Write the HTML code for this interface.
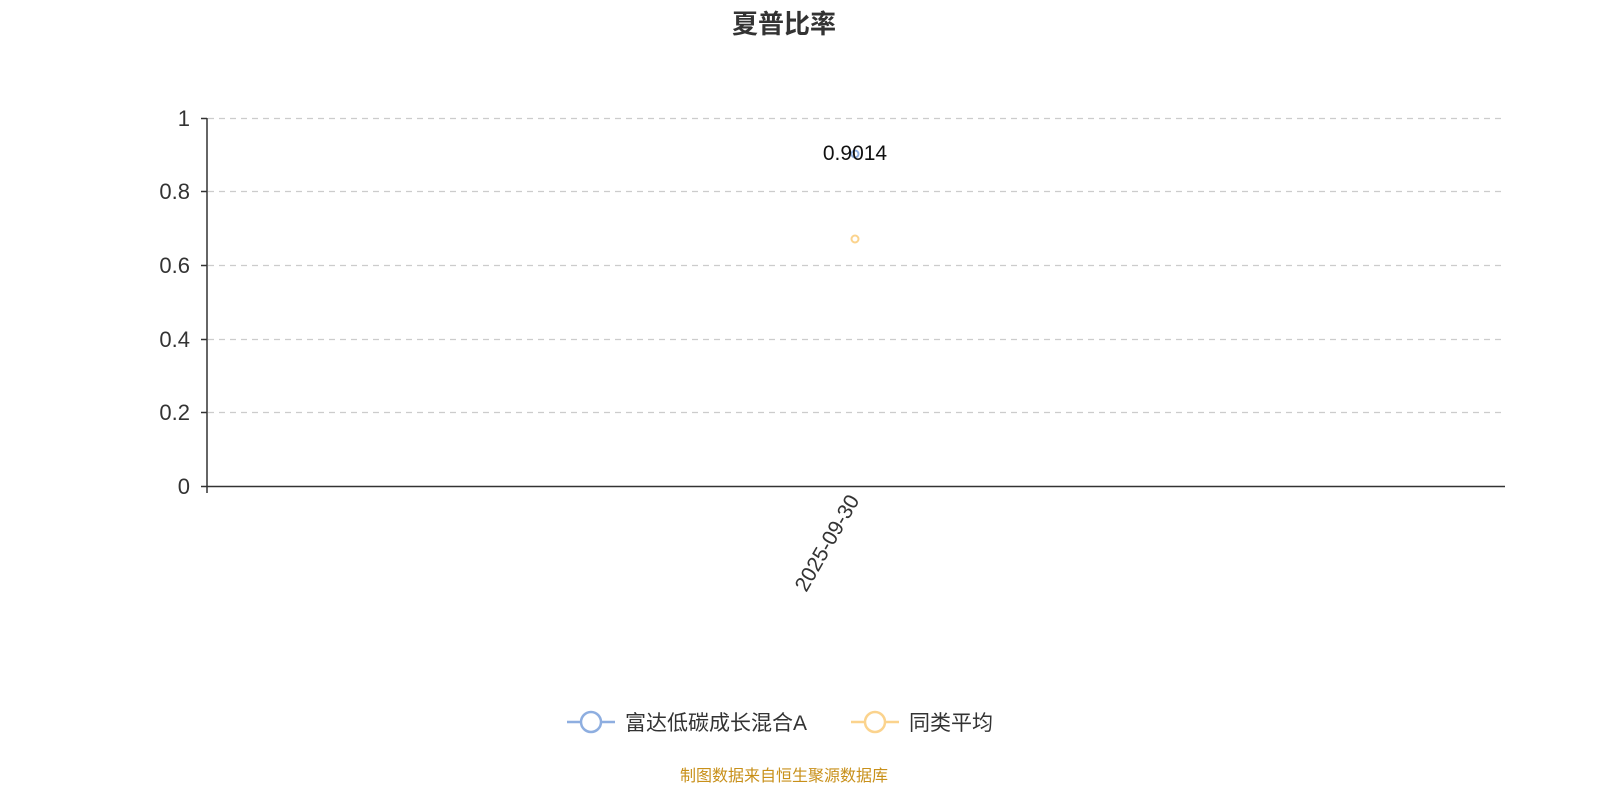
<!DOCTYPE html>
<html><head><meta charset="utf-8"><style>body{margin:0;background:#fff}svg{display:block}</style></head><body>
<svg width="1600" height="800" xmlns="http://www.w3.org/2000/svg" font-family="'Liberation Sans','Noto Sans CJK SC',sans-serif">
<text x="784" y="33" text-anchor="middle" font-size="26" font-weight="bold" fill="#333">夏普比率</text>
<g stroke="#ccc" stroke-dasharray="6,5" stroke-width="1.3">
<line x1="208" y1="118.5" x2="1505" y2="118.5"/>
<line x1="208" y1="191.5" x2="1505" y2="191.5"/>
<line x1="208" y1="265.5" x2="1505" y2="265.5"/>
<line x1="208" y1="339.5" x2="1505" y2="339.5"/>
<line x1="208" y1="412.5" x2="1505" y2="412.5"/>
</g>
<g stroke="#333" stroke-width="1.5">
<line x1="207" y1="118" x2="207" y2="493"/>
<line x1="207" y1="486.5" x2="1505" y2="486.5"/>
<line x1="201" y1="118.5" x2="207" y2="118.5"/>
<line x1="201" y1="191.5" x2="207" y2="191.5"/>
<line x1="201" y1="265.5" x2="207" y2="265.5"/>
<line x1="201" y1="339.5" x2="207" y2="339.5"/>
<line x1="201" y1="412.5" x2="207" y2="412.5"/>
<line x1="201" y1="486.5" x2="207" y2="486.5"/>
</g>
<g font-size="22" fill="#333" text-anchor="end">
<text x="190" y="126">1</text>
<text x="190" y="199">0.8</text>
<text x="190" y="273">0.6</text>
<text x="190" y="347">0.4</text>
<text x="190" y="420">0.2</text>
<text x="190" y="494">0</text>
</g>
<text transform="translate(860,500) rotate(-60)" text-anchor="end" font-size="21" fill="#333">2025-09-30</text>
<circle cx="855" cy="154" r="3.5" fill="none" stroke="#8eaee0" stroke-width="2"/>
<circle cx="855" cy="239" r="3.5" fill="none" stroke="#fbd38d" stroke-width="2"/>
<text x="855" y="160" text-anchor="middle" font-size="21" fill="#111">0.9014</text>
<g stroke-width="2.5" fill="#fff">
<line x1="567" y1="722" x2="615" y2="722" stroke="#8eaee0"/>
<circle cx="591" cy="722" r="10" stroke="#8eaee0"/>
<line x1="851" y1="722" x2="899" y2="722" stroke="#fbd38d"/>
<circle cx="875" cy="722" r="10" stroke="#fbd38d"/>
</g>
<text x="625" y="730" font-size="21" fill="#333">富达低碳成长混合A</text>
<text x="909" y="730" font-size="21" fill="#333">同类平均</text>
<text x="784" y="781" text-anchor="middle" font-size="16" fill="#c8901a">制图数据来自恒生聚源数据库</text>
</svg>
</body></html>
